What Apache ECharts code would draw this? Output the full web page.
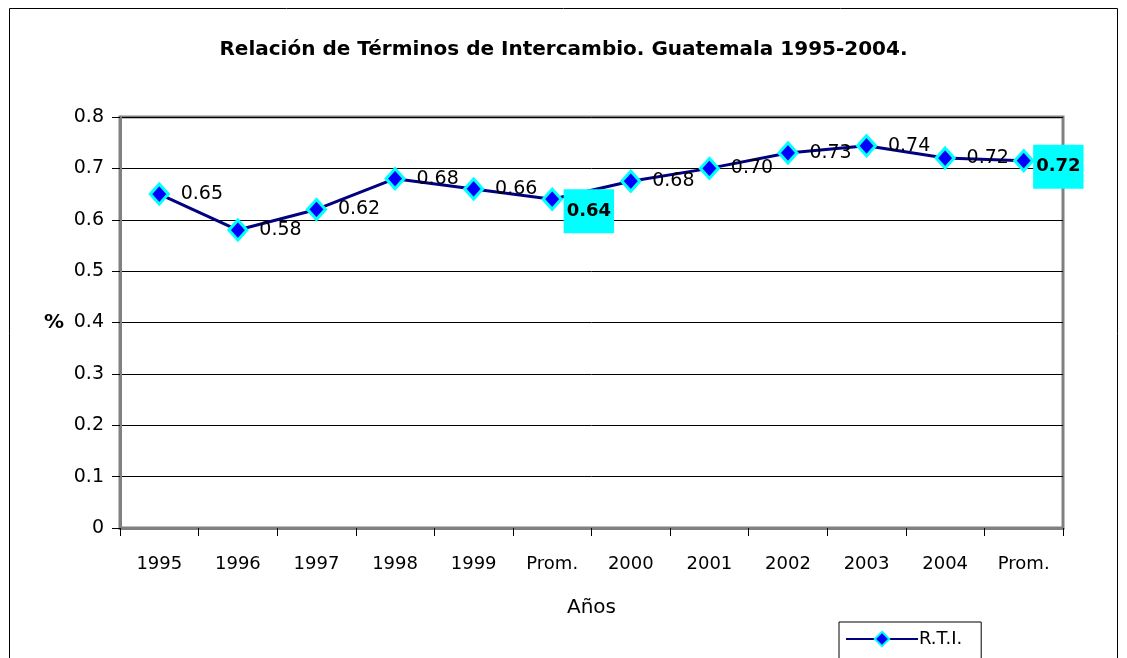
<!DOCTYPE html>
<html>
<head>
<meta charset="utf-8">
<script src="https://cdn.jsdelivr.net/npm/echarts@6/dist/echarts.min.js"></script>
<style>
  html, body { margin: 0; padding: 0; background: #fff; }
  #chart { width: 1127px; height: 658px; }
</style>
</head>
<body>
<div id="chart"></div>
<script>
// categories and values
const categories = ['1995', '1996', '1997', '1998', '1999', 'Prom.', '2000', '2001', '2002', '2003', '2004', 'Prom.']
const rtiValues = [0.65, 0.58, 0.62, 0.68, 0.66, 0.64, 0.675, 0.70, 0.73, 0.744, 0.72, 0.715]
const rtiLabels = ['0.65', '0.58', '0.62', '0.68', '0.66', '0.64', '0.68', '0.70', '0.73', '0.74', '0.72', '0.72']
const averageIndexes = [5, 11]

const font = 'DejaVu Sans, Liberation Sans, sans-serif'

const chart = echarts.init(document.getElementById('chart'))

const seriesData = rtiValues.map((v, i) => {
  const item = { value: v }
  if (averageIndexes.includes(i)) {
    const last = i === categories.length - 1
    item.label = {
      fontWeight: 'bold',
      fontSize: 18,
      backgroundColor: '#00ffff',
      padding: [13, 3, 13, 3],
      distance: 1,
      offset: last ? [-2, 6] : [0, 12]
    }
  }
  return item
})

chart.setOption({
  animation: false,
  title: {
    text: 'Relación de Términos de Intercambio. Guatemala 1995-2004.',
    left: 'center',
    top: 35,
    textStyle: { fontFamily: font, fontSize: 20, fontWeight: 'bold', color: '#000' }
  },
  legend: {
    bottom: -1,
    left: 839,
    itemWidth: 72,
    itemHeight: 18,
    itemGap: 0,
    padding: [8, 19, 11, 6],
    borderColor: '#000',
    borderWidth: 1,
    textStyle: { fontFamily: font, fontSize: 18, color: '#000', padding: [0, 0, 0, -4] },
    data: ['R.T.I.']
  },
  grid: {
    left: 120,
    right: 64,
    top: 117,
    bottom: 130,
    show: true,
    borderColor: '#808080',
    borderWidth: 3
  },
  xAxis: {
    type: 'category',
    data: categories,
    boundaryGap: true,
    name: 'Años',
    nameLocation: 'middle',
    nameGap: 70,
    nameTextStyle: { fontFamily: font, fontSize: 20, color: '#000' },
    axisLine: { lineStyle: { color: '#808080', width: 3 } },
    axisTick: { show: true, length: 8, lineStyle: { color: '#000', width: 1 } },
    axisLabel: { fontFamily: font, fontSize: 18, color: '#000', margin: 27 }
  },
  yAxis: {
    type: 'value',
    min: 0,
    max: 0.8,
    interval: 0.1,
    name: '%',
    nameLocation: 'middle',
    nameRotate: 0,
    nameGap: 56,
    nameTextStyle: { fontFamily: font, fontSize: 20, fontWeight: 'bold', color: '#000' },
    axisLine: { show: true, lineStyle: { color: '#808080', width: 3 } },
    axisTick: { show: true, length: 8, lineStyle: { color: '#000', width: 1 } },
    axisLabel: {
      fontFamily: font, fontSize: 19, color: '#000', margin: 16,
      formatter: (v) => String(Math.round(v * 10) / 10)
    },
    splitLine: { lineStyle: { color: '#000', width: 1 } }
  },
  graphic: [
    {
      type: 'rect',
      shape: { x: 9.5, y: 8.5, width: 1108, height: 660 },
      style: { fill: 'none', stroke: '#000', lineWidth: 1 },
      silent: true,
      z: -1
    }
  ],
  series: [
    {
      name: 'R.T.I.',
      type: 'line',
      data: seriesData,
      symbol: 'diamond',
      symbolSize: [18, 20],
      itemStyle: { color: '#0000ff', borderColor: '#00ffff', borderWidth: 3 },
      lineStyle: { color: '#000080', width: 3 },
      label: {
        show: true,
        position: 'right',
        distance: 11,
        fontFamily: font,
        fontSize: 19,
        color: '#000',
        formatter: (p) => rtiLabels[p.dataIndex]
      }
    }
  ]
})
</script>
</body>
</html>
